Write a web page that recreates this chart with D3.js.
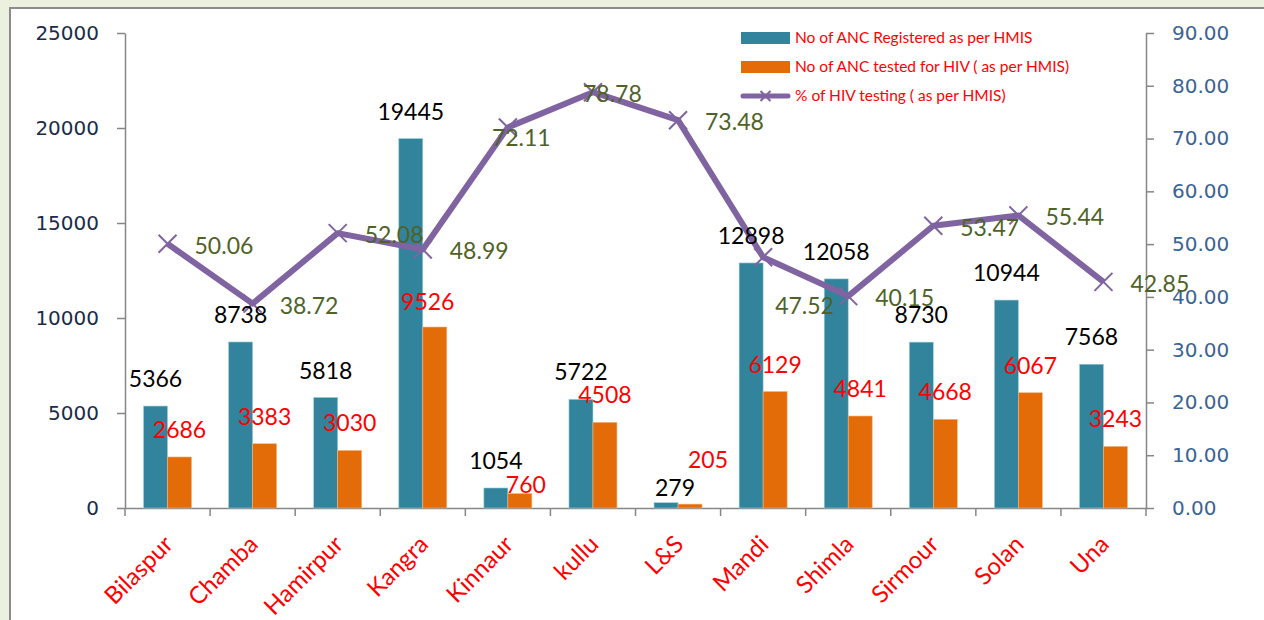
<!DOCTYPE html>
<html>
<head>
<meta charset="utf-8">
<script src="https://cdn.jsdelivr.net/npm/d3@7"></script>
<style>
  html, body { margin: 0; padding: 0; background: #ebf1de; }
  svg { display: block; }
</style>
</head>
<body>
<div id="chart"></div>
<script>
const districts = ["Bilaspur", "Chamba", "Hamirpur", "Kangra", "Kinnaur", "kullu", "L&S", "Mandi", "Shimla", "Sirmour", "Solan", "Una"];
const ancRegistered = [5366, 8738, 5818, 19445, 1054, 5722, 279, 12898, 12058, 8730, 10944, 7568];
const ancTested = [2686, 3383, 3030, 9526, 760, 4508, 205, 6129, 4841, 4668, 6067, 3243];
const hivTesting = [50.06, 38.72, 52.08, 48.99, 72.11, 78.78, 73.48, 47.52, 40.15, 53.47, 55.44, 42.85];
const leftTicks = [0, 5000, 10000, 15000, 20000, 25000];
const rightTicks = [0, 10, 20, 30, 40, 50, 60, 70, 80, 90];
const seriesNames = ["No of ANC Registered as per HMIS", "No of ANC tested for HIV ( as per HMIS)", "% of HIV testing ( as per HMIS)"];

// labels that were dragged by hand in the original
const regNudge = {6: [9, 12]};
const testedNudge = {3: [-7, 2], 4: [6, 18], 6: [18, -17]};
const pctNudge = {4: [-43, 9], 5: [-37, 0], 7: [-15, 47]};

const W = 1264, H = 620;
const plotLeft = 125, plotRight = 1146, plotTop = 33, plotBottom = 508;
const teal = "#31849b", orange = "#e36c09", purple = "#8064a2";
const axisGrey = "#868686";
const valueFont = "Lato, 'Open Sans', sans-serif";

const svg = d3.select("#chart").append("svg")
    .attr("width", W)
    .attr("height", H);

// white chart panel
svg.append("rect")
    .attr("x", 10).attr("y", 8)
    .attr("width", W + 10).attr("height", H + 10)
    .attr("fill", "#fff")
    .attr("stroke", "#8c8c8c")
    .attr("stroke-width", 2);

const x = d3.scaleBand()
    .domain(districts)
    .range([plotLeft, plotRight])
    .paddingInner(0.436)
    .paddingOuter(0.218);

const x1 = d3.scaleBand()
    .domain(["reg", "tested"])
    .range([0, x.bandwidth()]);

const yL = d3.scaleLinear().domain([0, 25000]).range([plotBottom, plotTop]);
const yR = d3.scaleLinear().domain([0, 90]).range([plotBottom, plotTop]);

// left axis
const gL = svg.append("g")
    .attr("transform", "translate(" + plotLeft + ",0)")
    .call(d3.axisLeft(yL).tickValues(leftTicks).tickSize(8).tickSizeOuter(0).tickPadding(18).tickFormat(d3.format("d")));
gL.selectAll("text")
    .attr("fill", "#1b2b48")
    .style("font-family", "'DejaVu Sans', sans-serif")
    .style("font-size", "20px");

// right axis
const gR = svg.append("g")
    .attr("transform", "translate(" + plotRight + ",0)")
    .call(d3.axisRight(yR).tickValues(rightTicks).tickSize(8).tickSizeOuter(0).tickPadding(18).tickFormat(d3.format(".2f")));
gR.selectAll("text")
    .attr("fill", "#3a6496")
    .style("font-family", "'DejaVu Sans', sans-serif")
    .style("font-size", "20px");

[gL, gR].forEach(function (g) {
    g.select(".domain").attr("stroke", axisGrey).attr("stroke-width", 1.5);
    g.selectAll(".tick line").attr("stroke", axisGrey).attr("stroke-width", 1.5);
});

// bottom axis: baseline + ticks between the categories
const gB = svg.append("g")
    .attr("transform", "translate(0," + plotBottom + ")")
    .call(d3.axisBottom(x).tickSize(0).tickSizeOuter(0).tickPadding(0));
gB.select(".domain").attr("stroke", axisGrey).attr("stroke-width", 1.5);
gB.selectAll(".tick text").remove();

const step = x.step();
const boundaries = districts.map(d => x(d) - x.paddingInner() * step / 2)
    .concat([x(districts[districts.length - 1]) + x.bandwidth() + x.paddingInner() * step / 2]);
gB.selectAll(".sep")
    .data(boundaries)
    .enter()
    .append("line")
    .attr("x1", d => d).attr("x2", d => d)
    .attr("y1", 0).attr("y2", 8)
    .attr("stroke", axisGrey)
    .attr("stroke-width", 1.5);

// category labels
svg.append("g")
    .selectAll("text")
    .data(districts)
    .enter()
    .append("text")
    .attr("transform", d => "translate(" + (x(d) + x.bandwidth() / 2 - 5) + "," + (plotBottom + 26) + ") rotate(-45)")
    .attr("text-anchor", "end")
    .attr("dy", "0.7em")
    .attr("fill", "#ff0000")
    .style("font-family", valueFont)
    .style("font-size", "24px")
    .text(d => d);

// bars
const rows = districts.map((d, i) => ({district: d, i: i, reg: ancRegistered[i], tested: ancTested[i], pct: hivTesting[i]}));

const barG = svg.append("g");
barG.selectAll(".reg")
    .data(rows)
    .enter()
    .append("rect")
    .attr("x", d => x(d.district) + x1("reg"))
    .attr("y", d => yL(d.reg))
    .attr("width", x1.bandwidth())
    .attr("height", d => plotBottom - yL(d.reg))
    .attr("fill", teal)
    .attr("stroke", "#9fd0dc")
    .attr("stroke-width", 0.6);

barG.selectAll(".tested")
    .data(rows)
    .enter()
    .append("rect")
    .attr("x", d => x(d.district) + x1("tested"))
    .attr("y", d => yL(d.tested))
    .attr("width", x1.bandwidth())
    .attr("height", d => plotBottom - yL(d.tested))
    .attr("fill", orange)
    .attr("stroke", "#f5b47c")
    .attr("stroke-width", 0.6);

// line + markers
const px = d => x(d.district) + x.bandwidth() / 2;
const line = d3.line().x(px).y(d => yR(d.pct));

svg.append("path")
    .datum(rows)
    .attr("d", line)
    .attr("fill", "none")
    .attr("stroke", purple)
    .attr("stroke-width", 6)
    .attr("stroke-linejoin", "round");

function cross(g, cx, cy, r) {
    g.append("path")
        .attr("d", "M" + (cx - r) + "," + (cy - r) + "L" + (cx + r) + "," + (cy + r) +
            "M" + (cx - r) + "," + (cy + r) + "L" + (cx + r) + "," + (cy - r))
        .attr("stroke", purple)
        .attr("stroke-width", 2)
        .attr("fill", "none");
}
const markG = svg.append("g");
rows.forEach(d => cross(markG, px(d), yR(d.pct), 9));

// value labels
function nudge(tbl, i) { return tbl[i] || [0, 0]; }

const labG = svg.append("g")
    .style("font-family", valueFont)
    .style("font-size", "23px");

labG.selectAll(".regLab")
    .data(rows)
    .enter()
    .append("text")
    .attr("x", d => x(d.district) + x1("reg") + x1.bandwidth() / 2 + nudge(regNudge, d.i)[0])
    .attr("y", d => yL(d.reg) - 27 + nudge(regNudge, d.i)[1])
    .attr("dy", "0.35em")
    .attr("text-anchor", "middle")
    .attr("fill", "#000")
    .text(d => d.reg);

labG.selectAll(".testLab")
    .data(rows)
    .enter()
    .append("text")
    .attr("x", d => x(d.district) + x1("tested") + x1.bandwidth() / 2 + nudge(testedNudge, d.i)[0])
    .attr("y", d => yL(d.tested) - 27 + nudge(testedNudge, d.i)[1])
    .attr("dy", "0.35em")
    .attr("text-anchor", "middle")
    .attr("fill", "#ff0000")
    .text(d => d.tested);

labG.selectAll(".pctLab")
    .data(rows)
    .enter()
    .append("text")
    .attr("x", d => px(d) + 27 + nudge(pctNudge, d.i)[0])
    .attr("y", d => yR(d.pct) + 2 + nudge(pctNudge, d.i)[1])
    .attr("dy", "0.35em")
    .attr("text-anchor", "start")
    .attr("fill", "#4f6228")
    .text(d => d.pct.toFixed(2));

// legend
const legend = svg.append("g")
    .style("font-family", valueFont)
    .style("font-size", "15.5px");

const legendY = [38, 67, 96];
seriesNames.forEach(function (name, i) {
    const g = legend.append("g").attr("transform", "translate(741," + legendY[i] + ")");
    if (i < 2) {
        g.append("rect")
            .attr("x", 0).attr("y", -6)
            .attr("width", 49).attr("height", 12)
            .attr("fill", i === 0 ? teal : orange);
    } else {
        g.append("line")
            .attr("x1", 2).attr("x2", 47)
            .attr("y1", 0).attr("y2", 0)
            .attr("stroke", purple)
            .attr("stroke-width", 5)
            .attr("stroke-linecap", "round");
        cross(g, 24.5, 0, 5);
    }
    g.append("text")
        .attr("x", 54)
        .attr("dy", "0.35em")
        .attr("fill", "#ff0000")
        .text(name);
});
</script>
</body>
</html>
